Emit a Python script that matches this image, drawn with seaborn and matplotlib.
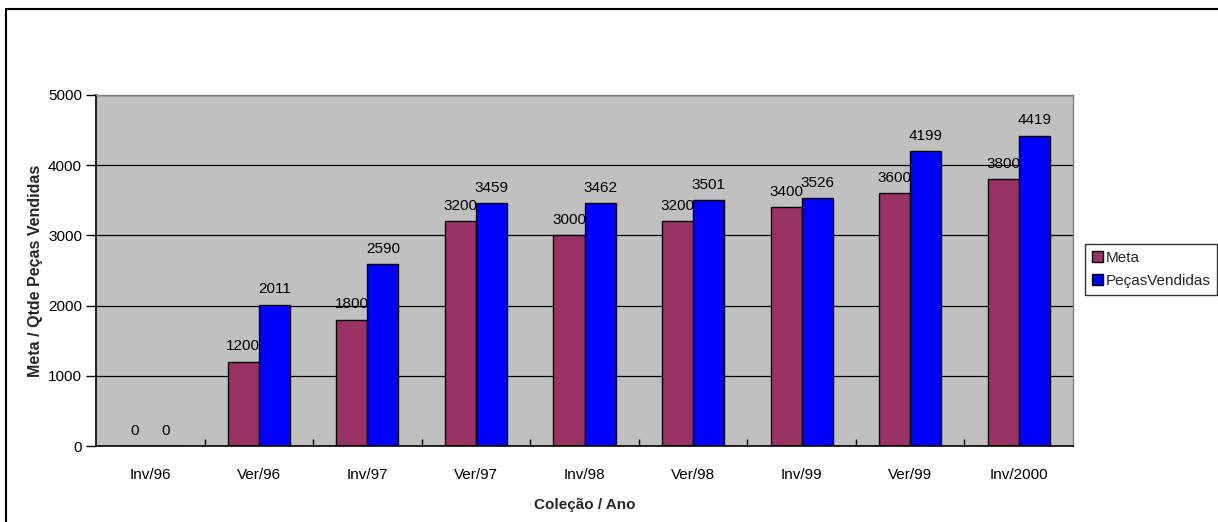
import matplotlib
matplotlib.use("Agg")
import matplotlib.pyplot as plt
from matplotlib.lines import Line2D
from matplotlib.ticker import FixedLocator, MultipleLocator
import seaborn as sns
import pandas as pd

# Sales targets vs. pieces sold per collection
colecoes = ["Inv/96", "Ver/96", "Inv/97", "Ver/97", "Inv/98",
            "Ver/98", "Inv/99", "Ver/99", "Inv/2000"]
meta = [0, 1200, 1800, 3200, 3000, 3200, 3400, 3600, 3800]
pecas_vendidas = [0, 2011, 2590, 3459, 3462, 3501, 3526, 4199, 4419]
series = ["Meta", "PeçasVendidas"]
cores = ["#993366", "#0000FF"]

df = pd.DataFrame({
    "Coleção": colecoes * 2,
    "Valor": meta + pecas_vendidas,
    "Série": [series[0]] * len(colecoes) + [series[1]] * len(colecoes),
})

sns.set_theme(style="white")
plt.rcParams["font.family"] = ["Liberation Sans", "DejaVu Sans"]
FS = 11

W, H = 1218, 522
fig = plt.figure(figsize=(W / 100, H / 100), dpi=100)
fig.patch.set_facecolor("white")

left, right, top, bottom = 96, 1073, 95, 446
ax = fig.add_axes([left / W, (H - bottom) / H, (right - left) / W, (bottom - top) / H])
ax.set_facecolor("#C0C0C0")

sns.barplot(data=df, x="Coleção", y="Valor", hue="Série", hue_order=series,
            palette=cores, width=4 / 7, gap=0, edgecolor="black", linewidth=1,
            saturation=1, ax=ax, legend=True, errorbar=None)

for cont in ax.containers:
    ax.bar_label(cont, labels=[f"{v:.0f}" for v in cont.datavalues],
                 padding=6, fontsize=FS, color="black")

ax.set_ylim(0, 5000)
ax.set_xlim(-0.5, len(colecoes) - 0.5)
ax.yaxis.set_major_locator(MultipleLocator(1000))
ax.grid(axis="y", color="black", linewidth=0.9)
ax.set_axisbelow(True)

# category ticks between groups, pointing inward
ax.xaxis.set_minor_locator(FixedLocator([i + 0.5 for i in range(len(colecoes) - 1)]))
ax.tick_params(axis="x", which="major", length=0, pad=16, labelsize=FS, colors="black")
ax.tick_params(axis="x", which="minor", direction="in", length=5, width=1, color="black", bottom=True)
ax.tick_params(axis="y", which="major", direction="out", length=7, width=1,
               color="black", pad=3, labelsize=FS, labelcolor="black", left=True)

for side in ["left", "bottom"]:
    ax.spines[side].set_color("black")
    ax.spines[side].set_linewidth(1.2)
for side in ["top", "right"]:
    ax.spines[side].set_color("#808080")
    ax.spines[side].set_linewidth(1)

ax.set_xlabel("Coleção / Ano", fontsize=FS, fontweight="bold", labelpad=11)
ax.set_ylabel("Meta / Qtde Peças Vendidas", fontsize=11.5, fontweight="bold", labelpad=4)

handles, labels = ax.get_legend_handles_labels()
ax.legend_.remove()
leg = fig.legend(handles, labels, loc="upper left",
                 bbox_to_anchor=(1085 / W, (H - 244) / H), frameon=True,
                 fancybox=False, edgecolor="black", fontsize=FS,
                 handlelength=0.7, handleheight=0.7, handletextpad=0.2,
                 borderpad=0.45, labelspacing=0.6, borderaxespad=0)
leg.get_frame().set_linewidth(1)
for h in leg.legend_handles:
    h.set_edgecolor("black")
    h.set_linewidth(1)

# chart frame (top and left edges)
fig.add_artist(Line2D([6 / W, 1], [(H - 9) / H, (H - 9) / H], color="black", linewidth=1.5))
fig.add_artist(Line2D([6 / W, 6 / W], [0, (H - 9) / H], color="black", linewidth=1.5))

fig.savefig("out.png", dpi=100, facecolor="white")
